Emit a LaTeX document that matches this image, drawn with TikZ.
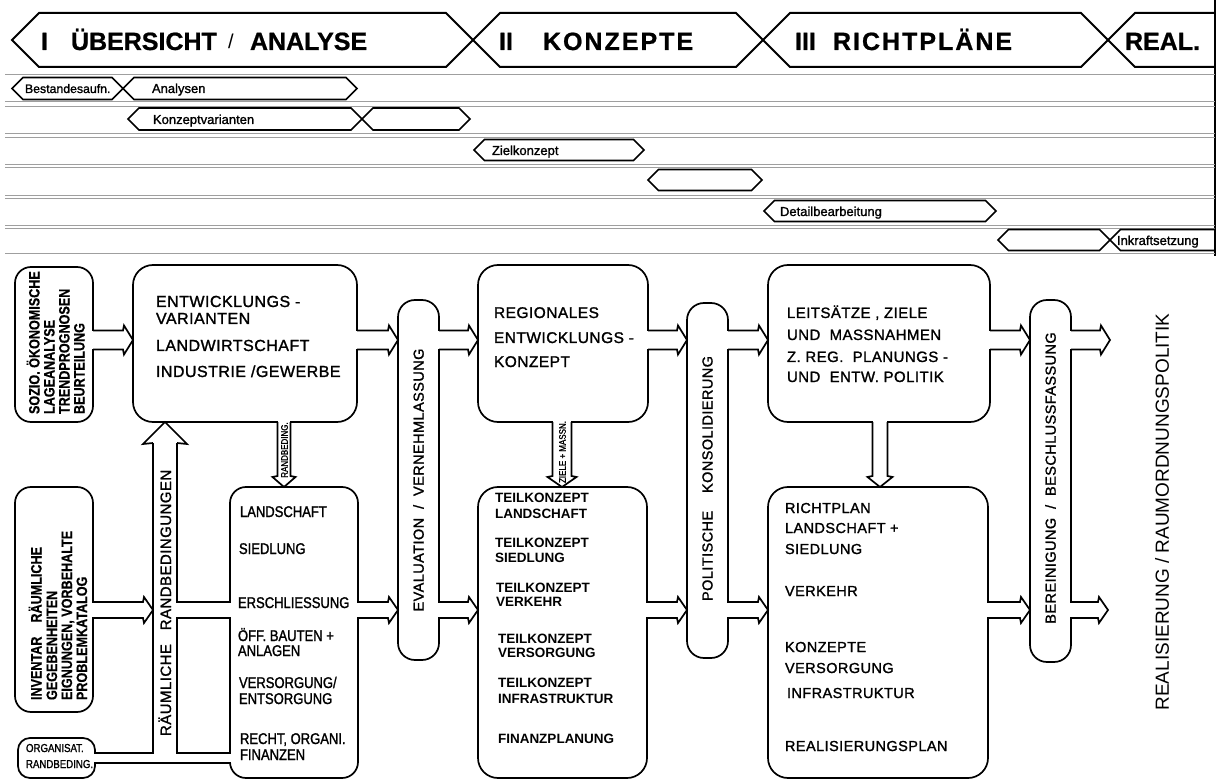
\documentclass[tikz,border=0pt]{standalone}
\usepackage{fontspec}
\setmainfont{Liberation Sans}
\newfontfamily\boxfont{Liberation Sans}[LetterSpace=3, FakeBold=1.4]
\newfontfamily\condfont{Liberation Sans}[FakeStretch=0.84, FakeBold=1.4]
\newfontfamily\condbold{Liberation Sans Bold}[FakeStretch=0.84, FakeBold=0.5]
\newfontfamily\rowfont{Liberation Sans}[FakeBold=1.3]
\newfontfamily\bannerfont{Liberation Sans Bold}[FakeBold=0.8]
\usetikzlibrary{calc}

\tikzset{
  flow/.style={line width=1.7pt, line join=miter},
  box/.style={draw, line width=1.7pt, rounded corners=#1, inner sep=0pt, outer sep=0pt},
  box/.default=20pt,
  banner/.style={line width=2pt, line join=miter},
  hexline/.style={line width=1.6pt, line join=miter},
  rule/.style={gray!75, line width=0.8pt},
  txt/.style={anchor=base west, inner sep=0pt, outer sep=0pt},
  vtxt/.style={anchor=base west, inner sep=0pt, outer sep=0pt, rotate=90},
  ctxt/.style={inner sep=0pt, outer sep=0pt, rotate=90},
}

% horizontal hollow flow arrow: source point, target point, axis y, half width, barb
\newcommand\flowh[5]{%
  \coordinate (fs) at (#1 |- 0,#3);
  \coordinate (ft) at (#2 |- 0,#3);
  \fill[white] ($(fs)+(-1.6,-#4+0.9)$) rectangle ($(fs)+(1.6,#4-0.9)$);
  \draw[flow] ($(fs)+(0,-#4)$) -- ($(ft)+(-10,-#4)$) -- ($(ft)+(-9,-#4-#5)$)
     -- (ft) -- ($(ft)+(-9,#4+#5)$) -- ($(ft)+(-10,#4)$) -- ($(fs)+(0,#4)$);
}
% vertical hollow flow arrow: source point, target point, axis x, half width, barb
\newcommand\flowv[5]{%
  \coordinate (fs) at (#3,0 |- #1);
  \coordinate (ft) at (#3,0 |- #2);
  \fill[white] ($(fs)+(-#4+0.9,-1.6)$) rectangle ($(fs)+(#4-0.9,1.6)$);
  \draw[flow] ($(fs)+(-#4,0)$) -- ($(ft)+(-#4,-11)$) -- ($(ft)+(-#4-#5,-10)$)
     -- (ft) -- ($(ft)+(#4+#5,-10)$) -- ($(ft)+(#4,-11)$) -- ($(fs)+(#4,0)$);
}
% elongated hexagon: left tip x, right tip x, axis y, half height, style
\newcommand\hexbar[5]{%
  \draw[#5] (#1,#3) -- ({#1+#4},{#3-#4}) -- ({#2-#4},{#3-#4}) -- (#2,#3)
     -- ({#2-#4},{#3+#4}) -- ({#1+#4},{#3+#4}) -- cycle;
}

\begin{document}
\begin{tikzpicture}[x=1pt, y=-1pt]
\useasboundingbox (0,0) rectangle (1223,783);

% ---------- phase banner ----------
\hexbar{12}{473}{40}{27}{banner}
\hexbar{473}{763}{40}{27}{banner}
\hexbar{763}{1108}{40}{27}{banner}
\draw[banner] (1215,13) -- (1135,13) -- (1108,40) -- (1135,67) -- (1215,67);
\draw[banner] (1215,0) -- (1215,256);

\begin{scope}[font=\bannerfont\fontsize{25}{28}\selectfont]
  \node[txt] (ph1a) at (41,50) {I};
  \node[txt] (ph1b) at (71,50) {ÜBERSICHT};
  \node[txt, font=\fontsize{20}{24}\selectfont] (ph1c) at (228,49) {/};
  \node[txt] (ph1d) at (250,50) {ANALYSE};
  \node[txt] (ph2a) at (499,50) {II};
  \node[txt, font=\bannerfont\fontsize{25}{28}\selectfont\addfontfeature{LetterSpace=8}] (ph2b) at (543,50) {KONZEPTE};
  \node[txt] (ph3a) at (795,50) {III};
  \node[txt, font=\bannerfont\fontsize{25}{28}\selectfont\addfontfeature{LetterSpace=8}] (ph3b) at (833,50) {RICHTPLÄNE};
  \node[txt] (ph4) at (1125,50) {REAL.};
\end{scope}

% ---------- time schedule ----------
\foreach \yy in {74,101,106,133,137,164,167,195,198,225,228,253}
  \draw[rule] (5,\yy) -- (1215,\yy);

\hexbar{12}{123}{88.5}{11}{hexline}
\hexbar{123}{357}{88.5}{11}{hexline}
\hexbar{128}{362}{119}{11}{hexline}
\hexbar{362}{470}{119}{11}{hexline}
\hexbar{474}{644}{150}{10.5}{hexline}
\hexbar{648}{762}{180}{10.5}{hexline}
\hexbar{764}{996}{211}{10.5}{hexline}
\hexbar{998}{1110}{240}{10.5}{hexline}
\draw[hexline] (1215,229.5) -- (1120.5,229.5) -- (1110,240) -- (1120.5,250.5) -- (1215,250.5);

\begin{scope}[font=\rowfont\fontsize{13}{15}\selectfont]
  \node[txt, font=\rowfont\fontsize{12.3}{14}\selectfont] (r1a) at (25,93) {Bestandesaufn.};
  \node[txt] (r1b) at (152,93) {Analysen};
  \node[txt] (r2a) at (153,124) {Konzeptvarianten};
  \node[txt] (r3a) at (492,155) {Zielkonzept};
  \node[txt] (r5a) at (780,216) {Detailbearbeitung};
  \node[txt] (r6a) at (1117,245) {Inkraftsetzung};
\end{scope}

% ---------- boxes ----------
\node[box=16pt, minimum width=78pt, minimum height=155pt] (A) at (54,344.5) {};
\node[box, minimum width=224pt, minimum height=157pt] (B) at (245,343.5) {};
\node[box=16pt, minimum width=128pt, minimum height=291pt] (C) at (294,632.5) {};
\node[box=12pt, minimum width=77pt, minimum height=40pt] (D) at (56.5,758) {};
\node[box=16pt, minimum width=78pt, minimum height=225pt] (E) at (54,599.5) {};
\node[box=17pt, minimum width=41pt, minimum height=360pt] (Ev) at (418.5,480) {};
\node[box, minimum width=170pt, minimum height=157pt] (F) at (563,343.5) {};
\node[box, minimum width=169pt, minimum height=291pt] (G) at (562.5,632.5) {};
\node[box=17pt, minimum width=41pt, minimum height=355pt] (Po) at (707.5,480.5) {};
\node[box, minimum width=222pt, minimum height=157pt] (H) at (879,343.5) {};
\node[box, minimum width=220pt, minimum height=291pt] (I) at (878,632.5) {};
\node[box=17pt, minimum width=41pt, minimum height=362pt] (Be) at (1050.5,481) {};
\coordinate (outU) at (1110,340);
\coordinate (outL) at (1108,610);
\coordinate (shaftL) at (153,500);

% ---------- flow arrows ----------
\flowh{A.east}{B.west}{340}{9.5}{5}
\flowh{B.east}{Ev.west}{340}{9.5}{5}
\flowh{Ev.east}{F.west}{340}{9.5}{5}
\flowh{F.east}{Po.west}{340}{9.5}{5}
\flowh{Po.east}{H.west}{340}{9.5}{5}
\flowh{H.east}{Be.west}{340}{9.5}{5}
\flowh{Be.east}{outU}{340}{9.5}{5}
\flowh{E.east}{shaftL}{610}{8}{5}
\flowh{C.east}{Ev.west}{610}{8}{5}
\flowh{Ev.east}{G.west}{610}{8}{5}
\flowh{G.east}{Po.west}{610}{8}{5}
\flowh{Po.east}{I.west}{610}{8}{5}
\flowh{I.east}{Be.west}{610}{8}{5}
\flowh{Be.east}{outL}{610}{8}{5}

\flowv{B.south}{C.north}{284}{6.5}{5}
\flowv{F.south}{G.north}{562}{9.5}{5}
\flowv{H.south}{I.north}{880}{7.5}{5}

% spatial constraints shaft, fed from below and from the inventory
\fill[white] ($(C.west |- 0,602)+(-1.6,0.9)$) rectangle ($(C.west |- 0,618)+(1.6,-0.9)$);
\fill[white] ($(C.west |- 0,753)+(-1.6,0.9)$) rectangle ($(C.west |- 0,763)+(1.6,-0.9)$);
\fill[white] ($(D.east |- 0,753)+(-1.6,0.9)$) rectangle ($(D.east |- 0,763)+(1.6,-0.9)$);
\draw[flow] (153,443) -- (143,444) -- (165,0 |- B.south) -- (187,444) -- (177,443);
\draw[flow] (153,443) -- (153,753) -- (D.east |- 0,753);
\draw[flow] (177,443) -- (177,602) -- (C.west |- 0,602);
\draw[flow] (C.west |- 0,618) -- (177,618) -- (177,753) -- (C.west |- 0,753);
\draw[flow] (D.east |- 0,763) -- (C.west |- 0,763);

% ---------- texts ----------
\begin{scope}[font=\boxfont\fontsize{16}{18}\selectfont]
  \node[txt] (b1) at (156,307) {ENTWICKLUNGS -};
  \node[txt] (b2) at (156,324) {VARIANTEN};
  \node[txt] (b3) at (156,351) {LANDWIRTSCHAFT};
  \node[txt] (b4) at (156,377) {INDUSTRIE /GEWERBE};
\end{scope}
\begin{scope}[font=\boxfont\fontsize{15.5}{18}\selectfont]
  \node[txt] (f1) at (494,318) {REGIONALES};
  \node[txt] (f2) at (494,343) {ENTWICKLUNGS -};
  \node[txt] (f3) at (494,367) {KONZEPT};
\end{scope}
\begin{scope}[font=\boxfont\fontsize{15}{18}\selectfont]
  \node[txt] (h1) at (787,318) {LEITSÄTZE , ZIELE};
  \node[txt] (h2) at (787,340) {UND\ \ MASSNAHMEN};
  \node[txt] (h3) at (787,362) {Z. REG.\ \ PLANUNGS -};
  \node[txt] (h4) at (787,382) {UND\ \ ENTW. POLITIK};
\end{scope}
\begin{scope}[font=\boxfont\fontsize{14.5}{17}\selectfont]
  \node[txt] (i1) at (785,513) {RICHTPLAN};
  \node[txt] (i2) at (785,533) {LANDSCHAFT +};
  \node[txt] (i3) at (785,554) {SIEDLUNG};
  \node[txt] (i4) at (785,596) {VERKEHR};
  \node[txt] (i5) at (785,652) {KONZEPTE};
  \node[txt] (i6) at (785,673) {VERSORGUNG};
  \node[txt] (i7) at (787,698) {INFRASTRUKTUR};
  \node[txt] (i8) at (785,751) {REALISIERUNGSPLAN};
\end{scope}
\begin{scope}[font=\condfont\fontsize{15.5}{17}\selectfont]
  \node[txt] (c1) at (240,517) {LANDSCHAFT};
  \node[txt] (c2) at (239,554) {SIEDLUNG};
  \node[txt] (c3) at (238,608) {ERSCHLIESSUNG};
  \node[txt] (c4) at (238,641) {ÖFF. BAUTEN +};
  \node[txt] (c5) at (238,656) {ANLAGEN};
  \node[txt] (c6) at (239,688) {VERSORGUNG/};
  \node[txt, yshift=-1pt] (c7) at (239,703) {ENTSORGUNG};
  \node[txt] (c8) at (240,744) {RECHT, ORGANI.};
  \node[txt] (c9) at (240,760) {FINANZEN};
\end{scope}
\begin{scope}[font=\fontsize{13.5}{15}\selectfont\bfseries]
  \node[txt] (g1) at (495,502) {TEILKONZEPT};
  \node[txt] (g2) at (495,518) {LANDSCHAFT};
  \node[txt] (g3) at (495,547) {TEILKONZEPT};
  \node[txt] (g4) at (495,562) {SIEDLUNG};
  \node[txt] (g5) at (496,592) {TEILKONZEPT};
  \node[txt] (g6) at (496,606) {VERKEHR};
  \node[txt] (g7) at (498,643) {TEILKONZEPT};
  \node[txt] (g8) at (498,657) {VERSORGUNG};
  \node[txt] (g9) at (498,687) {TEILKONZEPT};
  \node[txt] (g10) at (498,703) {INFRASTRUKTUR};
  \node[txt] (g11) at (498,743) {FINANZPLANUNG};
\end{scope}
\begin{scope}[font=\condbold\fontsize{15}{17}\selectfont]
  \node[vtxt] (a1) at (39.5,414) {SOZIO. ÖKONOMISCHE};
  \node[vtxt] (a2) at (54.5,414) {LAGEANALYSE};
  \node[vtxt] (a3) at (69.5,414) {TRENDPROGNOSEN};
  \node[vtxt] (a4) at (84.5,414) {BEURTEILUNG};
  \node[vtxt] (e1) at (41.5,700) {INVENTAR\hspace{14pt}RÄUMLICHE};
  \node[vtxt] (e2) at (57,700) {GEGEBENHEITEN};
  \node[vtxt] (e3) at (72,700) {EIGNUNGEN, VORBEHALTE};
  \node[vtxt] (e4) at (87,700) {PROBLEMKATALOG};
\end{scope}
\begin{scope}[font=\condfont\fontsize{11.5}{12}\selectfont]
  \node[txt] (d1) at (26,752) {ORGANISAT.};
  \node[txt] (d2) at (26,768) {RANDBEDING.};
\end{scope}

\node[vtxt, font=\boxfont\fontsize{15}{17}\selectfont] (rr) at (171,736) {RÄUMLICHE\ \ \ RANDBEDINGUNGEN};
\node[ctxt, font=\condfont\fontsize{9.5}{10}\selectfont] (rb) at (284.5,450) {RANDBEDING.};
\node[ctxt, font=\condfont\fontsize{9.5}{10}\selectfont] (zm) at (562.5,452) {ZIELE + MASSN.};

\node[ctxt, font=\boxfont\fontsize{14.5}{17}\selectfont] (evt) at (Ev.center) {EVALUATION\ \ /\ \ VERNEHMLASSUNG};
\node[ctxt, font=\boxfont\fontsize{14.5}{17}\selectfont] (pot) at ($(Po.center)+(0,-2)$) {POLITISCHE\ \ \ \ KONSOLIDIERUNG};
\node[ctxt, font=\boxfont\fontsize{14.5}{17}\selectfont] (bet) at ($(Be.center)+(0,-3)$) {BEREINIGUNG\ \ /\ \ BESCHLUSSFASSUNG};
\node[ctxt, font=\fontsize{19}{22}\selectfont] (real) at (1162,512) {REALISIERUNG / RAUMORDNUNGSPOLITIK};

\end{tikzpicture}
\end{document}
